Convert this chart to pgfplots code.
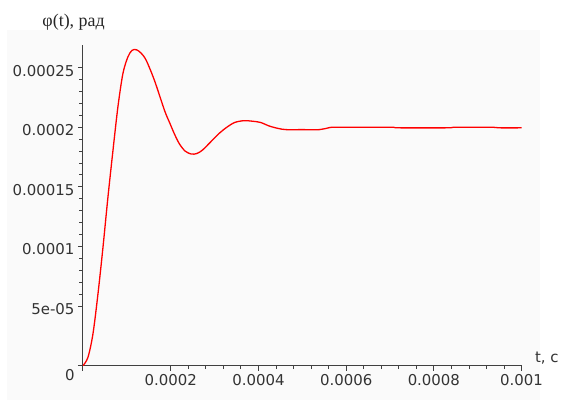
\documentclass[border=0pt]{standalone}
\usepackage{fontspec}
\setmainfont{DejaVu Sans}
\newfontfamily\serifcyr{Liberation Serif}
\usepackage{pgfplots}
\pgfplotsset{compat=1.18}

\begin{document}
\begin{tikzpicture}
% faint panel behind the plot and fixed page size
\fill[black!2] (-76bp,-34bp) rectangle (457bp,336bp);
\path (-83bp,-47bp) rectangle ++(562bp,413bp);

\begin{axis}[
    at={(0,0)}, anchor=south west,
    scale only axis,
    width=439bp, height=321bp,
    xmin=0, xmax=0.001,
    ymin=0, ymax=0.000269,
    axis lines=left,
    axis line style={-, black!75, line width=0.9bp},
    tick align=outside,
    tick style={black!75, line width=0.9bp},
    major tick length=5bp,
    minor tick length=3.5bp,
    minor tick num=4,
    scaled ticks=false,
    xtick={0.0002,0.0004,0.0006,0.0008,0.001},
    xticklabels={0.0002,0.0004,0.0006,0.0008,0.001},
    extra x ticks={0},
    extra x tick labels={},
    ytick={0.00005,0.0001,0.00015,0.0002,0.00025},
    yticklabels={5e-05,0.0001,0.00015,0.0002,0.00025},
    extra y ticks={0},
    extra y tick labels={},
    ticklabel style={font=\fontsize{15}{18}\selectfont, text=black!80},
    yticklabel style={yshift=-3bp},
    /pgf/number format/assume math mode=true,
]

\addplot[color=red, line width=1.3bp, smooth] coordinates {
    (0, 0)
    (0.0000114, 0.000007)
    (0.0000228, 0.0000266)
    (0.0000342, 0.000060)
    (0.0000456, 0.000099)
    (0.0000569, 0.000141)
    (0.0000683, 0.000180)
    (0.0000797, 0.000217)
    (0.0000911, 0.000245)
    (0.0001025, 0.000259)
    (0.000112, 0.0002645)
    (0.000122, 0.000265)
    (0.000133, 0.000262)
    (0.0001444, 0.000256)
    (0.0001633, 0.000239)
    (0.0001861, 0.000214)
    (0.000198, 0.0002035)
    (0.000209, 0.000194)
    (0.00022, 0.000186)
    (0.000233, 0.000180)
    (0.000247, 0.0001775)
    (0.00026, 0.000178)
    (0.000273, 0.000181)
    (0.000292, 0.000188)
    (0.000311, 0.000195)
    (0.000328, 0.0002)
    (0.000346, 0.000204)
    (0.000367, 0.0002055)
    (0.000388, 0.000205)
    (0.000405, 0.000204)
    (0.000425, 0.000201)
    (0.000445, 0.000199)
    (0.000463, 0.000198)
    (0.0005, 0.000198)
    (0.000539, 0.000198)
    (0.00056, 0.0001995)
    (0.000577, 0.0002)
    (0.0007, 0.0002)
    (0.00072, 0.0001995)
    (0.00083, 0.0001995)
    (0.00085, 0.0002)
    (0.00093, 0.0002)
    (0.00095, 0.0001995)
    (0.001, 0.0001995)
};

\end{axis}

\node[anchor=center, font=\fontsize{15}{18}\selectfont, text=black!80] at (-13bp,-9bp) {0};
\node[anchor=west, font=\serifcyr\fontsize{18}{21}\selectfont, text=black!85] at (-44bp,344bp) {φ(t), рад};
\node[anchor=base west, font=\fontsize{15}{18}\selectfont, text=black!80] at (449bp,3bp) {t,\ c};
\end{tikzpicture}
\end{document}
